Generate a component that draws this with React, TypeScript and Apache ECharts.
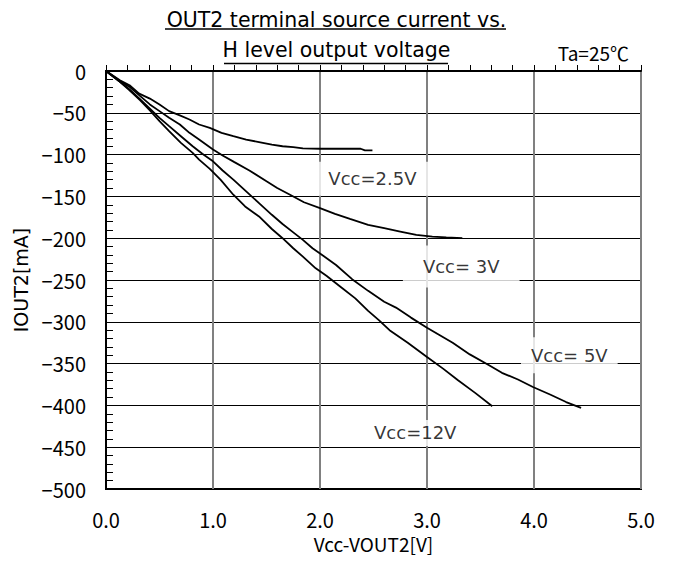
import React, { useEffect, useRef } from "react";
import * as echarts from "echarts";

const FONT = '"Noto Sans CJK JP", "Noto Sans", sans-serif';
const WIDE = '"DejaVu Sans", "Noto Sans", sans-serif';

const titleLines = ["OUT2 terminal source current vs.", "H level output voltage"];
const condition = "Ta=25\u2103";
const xName = "Vcc-VOUT2[V]";
const yName = "IOUT2[mA]";

const xTickValues = [0, 1, 2, 3, 4, 5];
const yMin = -500;
const yMax = 0;

const vcc25: [number, number][] = [
  [0, 0], [0.13, -11], [0.22, -17], [0.31, -27], [0.41, -33], [0.5, -40], [0.59, -48],
  [0.69, -53], [0.78, -58], [0.87, -64], [0.97, -68], [1.08, -74], [1.19, -78],
  [1.31, -82], [1.43, -85], [1.55, -88], [1.65, -90], [1.75, -91], [1.84, -92.5],
  [2.0, -93], [2.2, -93], [2.38, -93], [2.42, -95], [2.49, -95],
];

const vcc3: [number, number][] = [
  [0, 0], [0.13, -12], [0.22, -19], [0.32, -30], [0.41, -40], [0.5, -48], [0.59, -56],
  [0.69, -64], [0.78, -74], [0.87, -82], [1.0, -94], [1.09, -101], [1.2, -109],
  [1.34, -119], [1.5, -132], [1.6, -140], [1.72, -148], [1.85, -157], [2.0, -164],
  [2.14, -171], [2.28, -177], [2.45, -184], [2.6, -188], [2.75, -192], [2.9, -196],
  [3.05, -198], [3.18, -199], [3.33, -200],
];

const vcc5: [number, number][] = [
  [0, 0], [0.13, -13], [0.22, -22], [0.32, -34], [0.41, -45], [0.5, -56], [0.59, -66],
  [0.7, -78], [0.81, -90], [0.9, -99], [1.0, -108], [1.09, -119], [1.19, -130],
  [1.31, -144], [1.43, -158], [1.55, -172], [1.65, -183], [1.75, -193], [1.84, -202],
  [1.93, -212], [2.03, -221], [2.15, -232], [2.3, -249], [2.45, -263], [2.6, -276],
  [2.71, -283], [2.85, -295], [3.0, -307], [3.12, -316], [3.24, -325], [3.4, -339],
  [3.58, -352], [3.7, -361], [3.85, -369], [3.99, -378], [4.15, -387], [4.3, -396],
  [4.44, -403],
];

const vcc12: [number, number][] = [
  [0, 0], [0.13, -13], [0.22, -23], [0.32, -35], [0.41, -47], [0.5, -60], [0.59, -72],
  [0.7, -86], [0.81, -98], [0.87, -106], [0.97, -117], [1.07, -130], [1.19, -148],
  [1.3, -162], [1.43, -174], [1.55, -189], [1.65, -200], [1.75, -212], [1.84, -222],
  [1.96, -236], [2.06, -245], [2.2, -259], [2.33, -272], [2.45, -287], [2.55, -298],
  [2.65, -310], [2.82, -325], [3.0, -342], [3.15, -356], [3.29, -370], [3.45, -385],
  [3.61, -401],
];

const seriesNames = ["Vcc=2.5V", "Vcc=3V", "Vcc=5V", "Vcc=12V"];
const seriesData = [vcc25, vcc3, vcc5, vcc12];

const labelTexts = ["Vcc=2.5V", "Vcc= 3V", "Vcc= 5V", "Vcc=12V"];
const labelCoords: [number, number][] = [
  [2.49, -129],
  [3.32, -234],
  [4.33, -340],
  [2.89, -433],
];
const labelPaddings = [
  [8, 13, 8, 13],
  [12, 20, 12, 20],
  [9, 10, 9, 10],
  [4, 8, 4, 8],
];

export default function App() {
  const ref = useRef<HTMLDivElement>(null);

  useEffect(() => {
    if (!ref.current) return;
    const chart = echarts.init(ref.current, null, { renderer: "svg" });

    const lineSeries = seriesNames.map((name, i) => ({
      name,
      type: "line",
      data: seriesData[i],
      showSymbol: false,
      symbol: "none",
      smooth: false,
      lineStyle: { color: "#000", width: 1.8 },
      z: 3,
      silent: true,
    }));

    const labelSeries = {
      name: "labels",
      type: "scatter",
      symbolSize: 0,
      silent: true,
      z: 4,
      data: labelCoords.map((c, i) => ({
        value: c,
        label: {
          show: true,
          position: "inside",
          formatter: labelTexts[i],
          padding: labelPaddings[i],
        },
      })),
      label: {
        show: true,
        position: "inside",
        color: "#000",
        fontFamily: WIDE,
        fontSize: 18,
        backgroundColor: "#fff",
      },
    };

    const titleStyle = { fontFamily: WIDE, fontSize: 20.5, fontWeight: "normal", color: "#000" };

    chart.setOption({
      animation: false,
      backgroundColor: "#fff",
      title: [
        { text: titleLines[0], left: "center", top: 4, textStyle: titleStyle },
        { text: titleLines[1], left: "center", top: 34, textStyle: titleStyle },
        {
          text: condition,
          right: 39,
          top: 38,
          textStyle: { fontFamily: FONT, fontSize: 19, fontWeight: "normal", color: "#000" },
        },
      ],
      graphic: [
        {
          type: "line",
          shape: { x1: 165, y1: 29, x2: 506, y2: 29 },
          style: { stroke: "#000", lineWidth: 1.5 },
        },
        {
          type: "line",
          shape: { x1: 224, y1: 63.5, x2: 448, y2: 63.5 },
          style: { stroke: "#000", lineWidth: 1.5 },
        },
      ],
      grid: {
        left: 106,
        top: 71,
        width: 535,
        height: 418,
        show: true,
        borderColor: "#000",
        borderWidth: 2,
        containLabel: false,
      },
      xAxis: {
        type: "value",
        min: xTickValues[0],
        max: xTickValues[xTickValues.length - 1],
        interval: 1,
        name: xName,
        nameLocation: "middle",
        nameGap: 42,
        nameTextStyle: { fontFamily: FONT, fontSize: 19, color: "#000" },
        axisLine: { show: true, lineStyle: { color: "#000", width: 2 } },
        axisTick: { show: true, inside: true, length: 6, lineStyle: { color: "#000", width: 1 } },
        minorTick: { show: true, splitNumber: 5, length: 6, lineStyle: { color: "#000", width: 1 } },
        splitLine: { show: true, lineStyle: { color: "#808080", width: 2 } },
        axisLabel: {
          margin: 20,
          fontFamily: FONT,
          fontSize: 20,
          color: "#000",
          formatter: (v: number) => v.toFixed(1),
        },
      },
      yAxis: {
        type: "value",
        min: yMin,
        max: yMax,
        interval: 50,
        name: yName,
        nameLocation: "middle",
        nameGap: 76,
        nameTextStyle: { fontFamily: WIDE, fontSize: 19, color: "#000" },
        axisLine: { show: true, lineStyle: { color: "#000", width: 2 } },
        axisTick: { show: true, inside: true, length: 7, lineStyle: { color: "#000", width: 1 } },
        minorTick: { show: true, splitNumber: 5, length: 7, lineStyle: { color: "#000", width: 1 } },
        splitLine: { show: true, lineStyle: { color: "#000", width: 1 } },
        axisLabel: {
          margin: 20,
          fontFamily: FONT,
          fontSize: 20,
          color: "#000",
          formatter: (v: number) => String(v).replace("-", "\u2212"),
        },
      },
      series: [...lineSeries, labelSeries],
    });

    return () => chart.dispose();
  }, []);

  return (
    <div
      ref={ref}
      style={{ position: "fixed", left: 0, top: 0, width: 673, height: 563, background: "#fff" }}
    />
  );
}
